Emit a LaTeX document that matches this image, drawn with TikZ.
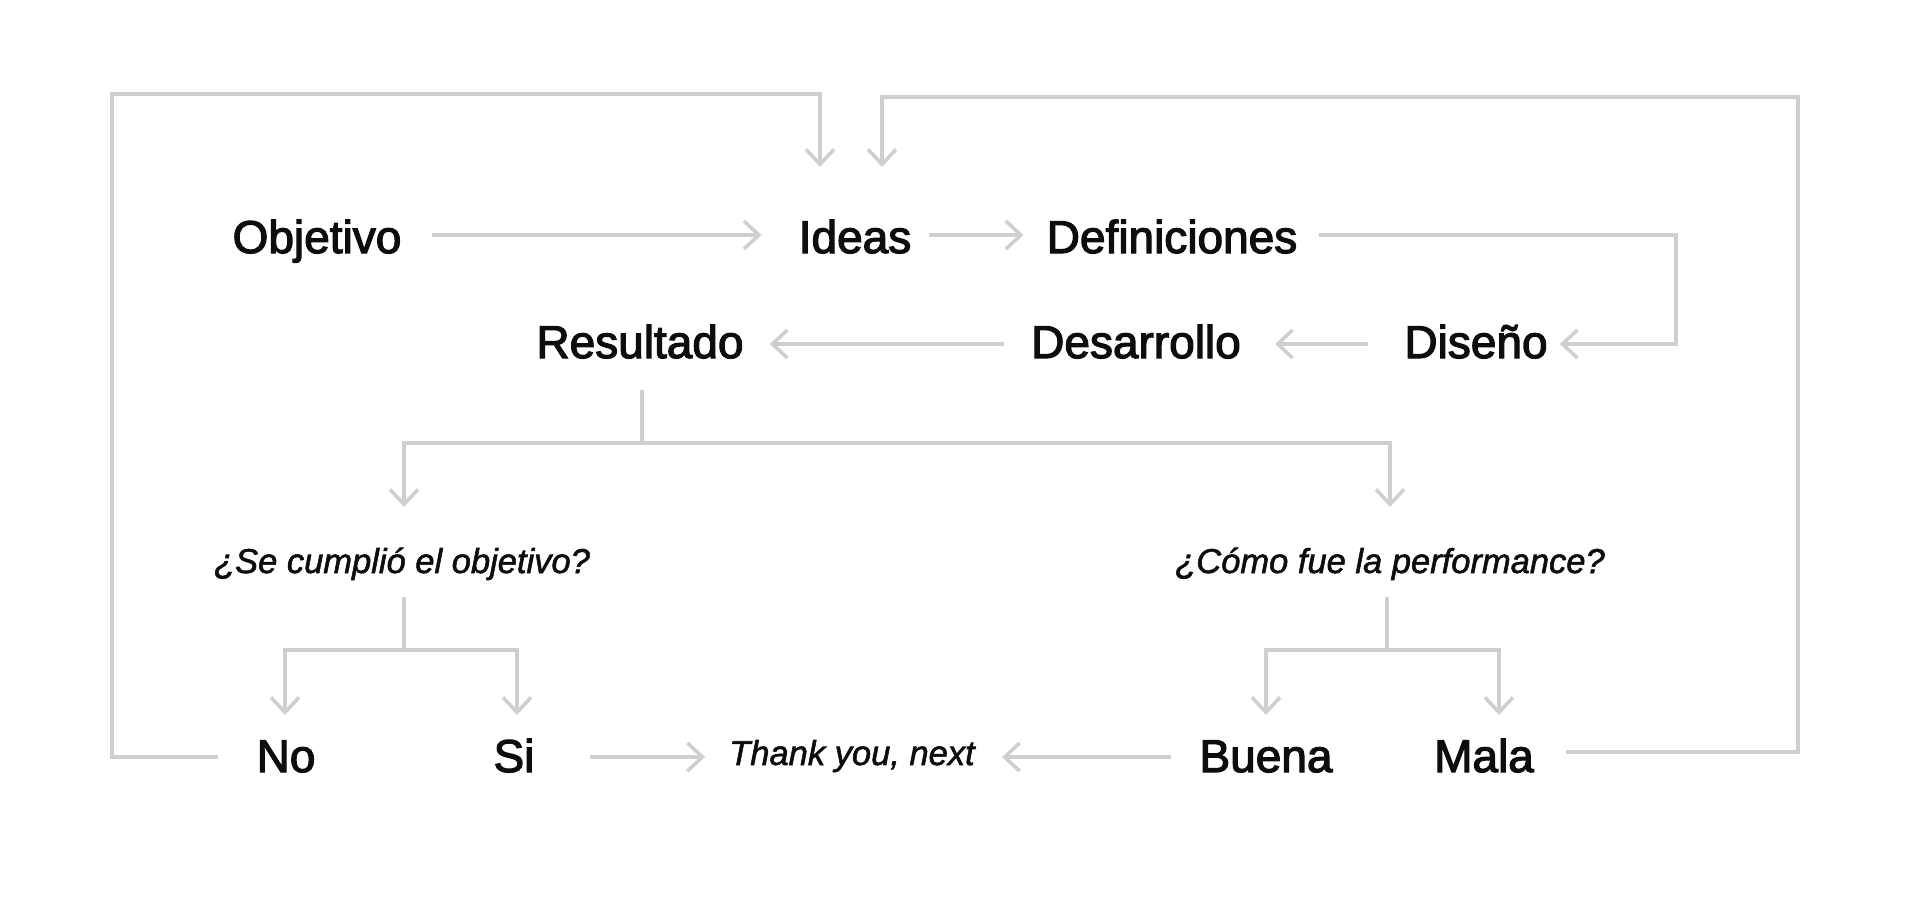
\documentclass[tikz,border=0pt]{standalone}
\usepackage{fontspec}
\setmainfont{Liberation Sans}
\newfontfamily\lblfont{Liberation Sans}[FakeBold=2.6]
\newfontfamily\qfont{Liberation Sans}[FakeBold=1.6]
\usetikzlibrary{arrows.meta,calc}
\definecolor{linegray}{HTML}{CFCFCF}
\definecolor{textblack}{HTML}{0D0D0D}
\tikzset{
  lbl/.style={inner sep=0pt, anchor=base, text=textblack, font=\lblfont\fontsize{46}{50}\selectfont},
  qlbl/.style={inner sep=0pt, anchor=base, text=textblack, font=\qfont\itshape\fontsize{34.5}{40}\selectfont},
  ln/.style={draw=linegray, line width=3.6pt, line join=miter},
  arr/.style={ln, -{Straight Barb[length=15pt, width=28pt, line width=3.6pt]}}
}
\begin{document}
\begin{tikzpicture}[x=1pt, y=-1pt]
\useasboundingbox (0,0) rectangle (1920,905);
% row 1
\node[lbl] (obj) at (317,253) {Objetivo};
\node[lbl] (ideas) at (855,253) {Ideas};
\node[lbl] (def) at (1172,253) {Definiciones};
% row 2
\node[lbl] (dis) at (1476,358) {Diseño};
\node[lbl] (des) at (1136,358) {Desarrollo};
\node[lbl] (res) at (640,358) {Resultado};
% questions
\node[qlbl] (q1) at (402,573) {¿Se cumplió el objetivo?};
\node[qlbl] (q2) at (1390,573) {¿Cómo fue la performance?};
% bottom row
\node[lbl] (no) at (286,772) {No};
\node[lbl] (si) at (514,772) {Si};
\node[qlbl] (thx) at (852,765) {Thank you, next};
\node[lbl] (bue) at (1266,772) {Buena};
\node[lbl] (mal) at (1484,772) {Mala};

% row 1 connectors
\draw[arr] ($(obj.base east)+(30,-18)$) -- ($(ideas.base west)+(-37,-18)$);
\draw[arr] ($(ideas.base east)+(18,-18)$) -- ($(def.base west)+(-23,-18)$);
\draw[arr] ($(def.base east)+(21,-18)$) -| (1676,344) -- ($(dis.base east)+(12,-14)$);
% row 2 connectors
\draw[arr] ($(dis.base west)+(-36,-14)$) -- ($(des.base east)+(34,-14)$);
\draw[arr] ($(des.base west)+(-27,-14)$) -- ($(res.base east)+(26,-14)$);
% resultado split
\coordinate (r1) at ($(res.base)+(2,85)$);
\draw[ln] ($(res.base)+(2,32)$) -- (r1);
\draw[arr] (r1) -| ($(q1.base)+(2,-66)$);
\draw[arr] (r1) -| ($(q2.base)+(0,-66)$);
% question 1 split
\coordinate (j1) at ($(q1.base)+(2,77)$);
\draw[ln] ($(q1.base)+(2,24)$) -- (j1);
\draw[arr] (j1) -| ($(no.base)+(-1,-57)$);
\draw[arr] (j1) -| ($(si.base)+(3,-57)$);
% question 2 split
\coordinate (j2) at ($(q2.base)+(-3,77)$);
\draw[ln] ($(q2.base)+(-3,24)$) -- (j2);
\draw[arr] (j2) -| ($(bue.base)+(0,-57)$);
\draw[arr] (j2) -| ($(mal.base)+(15,-57)$);
% bottom connectors
\draw[arr] ($(si.base east)+(55,-15)$) -- ($(thx.base west)+(-24,-8)$);
\draw[arr] ($(bue.base west)+(-28,-15)$) -- ($(thx.base east)+(27,-8)$);
% loops back to Ideas
\coordinate (lc) at (112,94);
\coordinate (rc) at (1798,97);
\draw[arr] ($(no.base west)+(-38,-15)$) -| (lc) -| ($(ideas.base)+(-35,-86)$);
\draw[arr] ($(mal.base east)+(32,-20)$) -| (rc) -| ($(ideas.base)+(27,-86)$);
\end{tikzpicture}
\end{document}
